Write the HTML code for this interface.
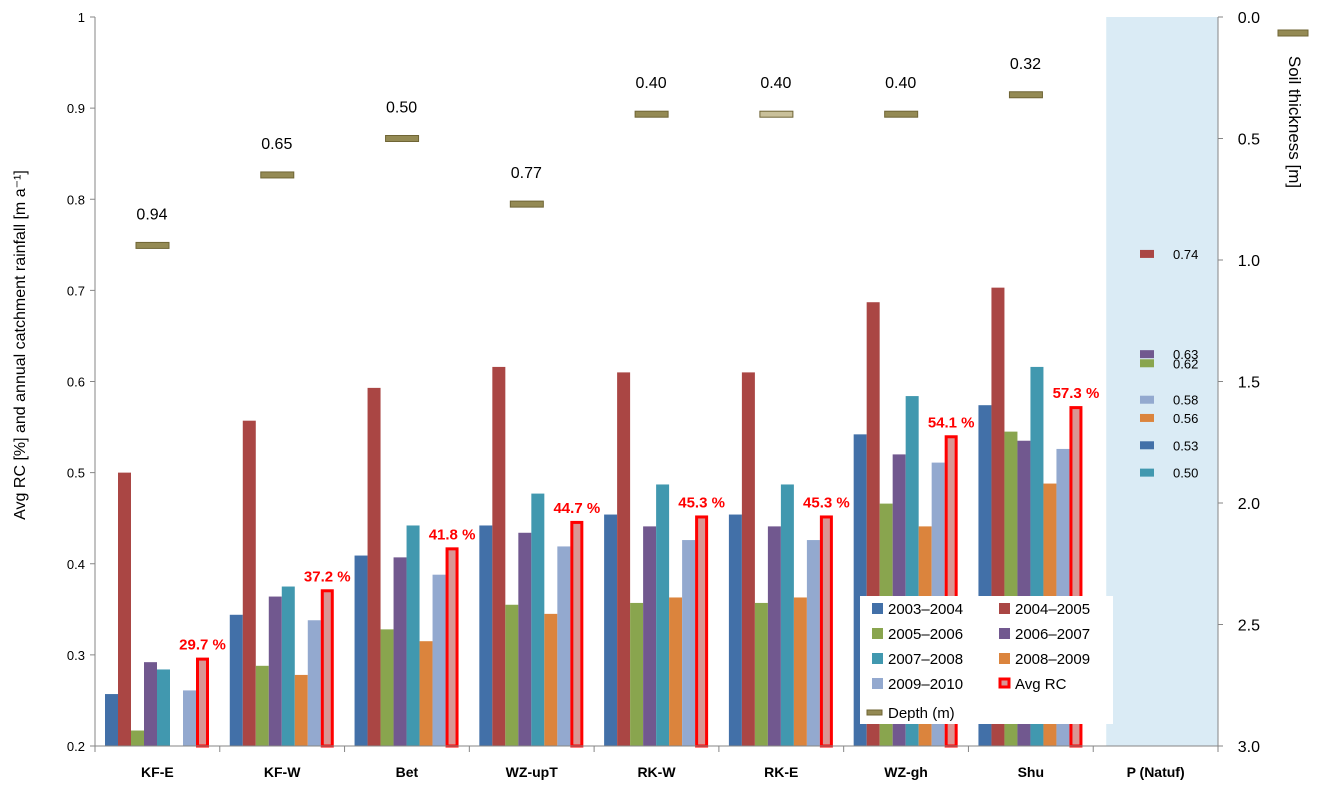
<!DOCTYPE html>
<html><head><meta charset="utf-8"><style>
body{margin:0;background:#fff;font-family:"Liberation Sans",sans-serif}
svg text{font-family:"Liberation Sans",sans-serif}
</style></head><body>
<svg id="c" width="1322" height="791"></svg>
<script>
const categories=["KF-E","KF-W","Bet","WZ-upT","RK-W","RK-E","WZ-gh","Shu","P (Natuf)"];
const seriesNames=["2003–2004","2004–2005","2005–2006","2006–2007","2007–2008","2008–2009","2009–2010","Avg RC"];
const s0304=[0.257,0.344,0.409,0.442,0.454,0.454,0.542,0.574,null];
const s0405=[0.500,0.557,0.593,0.616,0.610,0.610,0.687,0.703,null];
const s0506=[0.217,0.288,0.328,0.355,0.357,0.357,0.466,0.545,null];
const s0607=[0.292,0.364,0.407,0.434,0.441,0.441,0.520,0.535,null];
const s0708=[0.284,0.375,0.442,0.477,0.487,0.487,0.584,0.616,null];
const s0809=[null,0.278,0.315,0.345,0.363,0.363,0.441,0.488,null];
const s0910=[0.261,0.338,0.388,0.419,0.426,0.426,0.511,0.526,null];
const avgRC=[0.297,0.372,0.418,0.447,0.453,0.453,0.541,0.573,null];
const avgLabels=["29.7 %","37.2 %","41.8 %","44.7 %","45.3 %","45.3 %","54.1 %","57.3 %",null];
const depth=[0.94,0.65,0.50,0.77,0.40,0.40,0.40,0.32,null];
const depthLabels=["0.94","0.65","0.50","0.77","0.40","0.40","0.40","0.32",null];
const natufVals=[0.53,0.74,0.62,0.63,0.50,0.56,0.58];
const natufLabels=["0.53","0.74","0.62","0.63","0.50","0.56","0.58"];
const leftTicks=[0.2,0.3,0.4,0.5,0.6,0.7,0.8,0.9,1];
const leftTickLabels=["0.2","0.3","0.4","0.5","0.6","0.7","0.8","0.9","1"];
const rightTicks=[0,0.5,1,1.5,2,2.5,3];
const rightTickLabels=["0.0","0.5","1.0","1.5","2.0","2.5","3.0"];

const colors=["#4270a8","#aa4644","#89a54e","#71588f","#4198af","#db843d","#93a9cf","#d99694"];
const series=[s0304,s0405,s0506,s0607,s0708,s0809,s0910,avgRC];
const X0=95,X1=1218,Y0=17,Y1=746,GW=(X1-X0)/categories.length;
const yL=v=>Y1-(v-0.2)/0.8*(Y1-Y0);
const yR=v=>Y0+v/3*(Y1-Y0);
const gx=i=>X0+i*GW;
const NS="http://www.w3.org/2000/svg";
const svg=document.getElementById('c');
function mk(t,a,p){const e=document.createElementNS(NS,t);for(const k in a)e.setAttribute(k,a[k]);(p||svg).appendChild(e);return e;}
function tx(x,y,s,a){const e=mk('text',Object.assign({x:x,y:y},a));e.textContent=s;return e;}

let bg=mk('rect',{x:gx(8)+13,y:Y0,width:X1-gx(8)-13,height:Y1-Y0,fill:"#daebf5"});



const bw=13;
series.forEach((s,k)=>{s.forEach((v,i)=>{if(v==null)return;
 const x=gx(i)+10+k*bw, y=yL(v);
 let r;
 if(k===7){r=mk('rect',{x:x+1.5,y:y+1.5,width:bw-3,height:Y1-y-1.5,fill:colors[k],stroke:"#ff0000","stroke-width":3});}
 else r=mk('rect',{x:x,y:y,width:bw,height:Y1-y,fill:colors[k]});
 
 
 if(k===7){let t=tx(x+bw/2,y-8,avgLabels[i],{"text-anchor":"middle","font-size":15,"font-weight":"bold",fill:"#ff0000"});
  }
});});

depth.forEach((d,i)=>{if(d==null)return;const y=yR(d);
 let r=mk('rect',{x:gx(i)+41,y:y-3,width:33,height:6,fill:i===5?"#c9c09a":"#948a54",stroke:"#6f6535","stroke-width":1});
 
 let t=tx(gx(i)+57,y-26,depthLabels[i],{"text-anchor":"middle","font-size":16,fill:"#000"});
 
});
let dm=mk('rect',{x:1278,y:30,width:30,height:6,fill:"#948a54",stroke:"#6f6535"});


natufVals.forEach((v,j)=>{const y=yL(v);
 let r=mk('rect',{x:1140,y:y-4,width:14,height:8,fill:colors[j]});
 
 let t=tx(1173,y+5,natufLabels[j],{"font-size":13,fill:"#000"});
 
});

mk('line',{x1:X0,y1:Y0,x2:X0,y2:Y1,stroke:"#868686"});
mk('line',{x1:X1,y1:Y0,x2:X1,y2:Y1,stroke:"#868686"});
mk('line',{x1:X0,y1:Y1,x2:X1,y2:Y1,stroke:"#868686"});
leftTicks.forEach((v,i)=>{const y=yL(v);mk('line',{x1:X0-5,y1:y,x2:X0,y2:y,stroke:"#868686"});
 let t=tx(X0-10,y+5,leftTickLabels[i],{"text-anchor":"end","font-size":13});
 });
rightTicks.forEach((v,i)=>{const y=yR(v);mk('line',{x1:X1,y1:y,x2:X1+5,y2:y,stroke:"#868686"});
 let t=tx(X1+42,y+6,rightTickLabels[i],{"text-anchor":"end","font-size":16});
 });
categories.forEach((c,i)=>{mk('line',{x1:gx(i),y1:Y1,x2:gx(i),y2:Y1+6,stroke:"#868686"});
 let t=tx(gx(i)+GW/2,Y1+31,c,{"text-anchor":"middle","font-size":14,"font-weight":"bold"});
 });
mk('line',{x1:X1,y1:Y1,x2:X1,y2:Y1+6,stroke:"#868686"});

let yt=tx(0,0,"Avg RC [%] and annual catchment rainfall  [m a⁻¹]",{"font-size":16,"text-anchor":"middle",transform:"translate(25,345) rotate(-90)"});

let yt2=tx(0,0,"Soil thickness [m]",{"font-size":17,"text-anchor":"middle",transform:"translate(1289,122) rotate(90)"});


const lg=mk('g',{});

mk('rect',{x:860,y:596,width:253,height:128,fill:"#fff"},lg);
seriesNames.forEach((n,k)=>{const col=k%2,row=Math.floor(k/2);const x=872+col*127,y=608+row*25;
 let r;
 if(k===7)r=mk('rect',{x:x+1,y:y-4,width:9,height:8,fill:colors[k],stroke:"#ff0000","stroke-width":3},lg);
 else r=mk('rect',{x:x,y:y-5,width:11,height:11,fill:colors[k]},lg);
 
 let t=tx(x+16,y+6,n,{"font-size":15},lg);
 
});
mk('rect',{x:867,y:710,width:15,height:5,fill:"#948a54",stroke:"#6f6535"},lg);
let dl=tx(888,718,"Depth (m)",{"font-size":15},lg);

</script>
</body></html>
